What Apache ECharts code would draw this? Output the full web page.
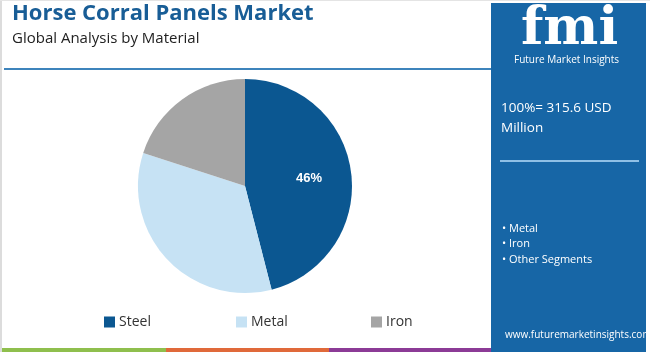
<!DOCTYPE html>
<html>
<head>
<meta charset="utf-8">
<script src="https://cdn.jsdelivr.net/npm/echarts@6/dist/echarts.min.js"></script>
<style>
  html, body { margin: 0; padding: 0; background: #fff; }
  #chart { width: 650px; height: 352px; }
</style>
</head>
<body>
<div id="chart"></div>
<script>
// data
const materials = ['Steel', 'Metal', 'Iron']
const shares = [46, 34, 20]
const sliceColors = ['#0b5791', '#c6e2f4', '#a5a5a5']
const sideBullets = ['Metal', 'Iron', 'Other Segments']
const totalText = ['100%= 315.6 USD', 'Million']

const chart = echarts.init(document.getElementById('chart'))
const font = '"Open Sans", Lato, sans-serif'
const panelBlue = '#1766a6'

// one legend per item so each sits where the reference has it
const legendLeft = [99, 231, 366]
const legends = materials.map((name, i) => ({
  data: [name],
  left: legendLeft[i],
  top: 310,
  itemWidth: 11,
  itemHeight: 11,
  icon: 'rect',
  itemGap: 0,
  textStyle: { fontFamily: font, fontSize: 14, color: '#333', padding: [0, 0, 0, -1] }
}))

const sideGraphics = [
  // header rule
  { type: 'rect', shape: { x: 4, y: 68, width: 488, height: 2 }, style: { fill: '#3e84bc' } },
  // bottom color bars
  { type: 'rect', shape: { x: 2, y: 348, width: 164, height: 4 }, style: { fill: '#8fbf4d' } },
  { type: 'rect', shape: { x: 166, y: 348, width: 163, height: 4 }, style: { fill: '#e0693a' } },
  { type: 'rect', shape: { x: 329, y: 348, width: 164, height: 4 }, style: { fill: '#8c3b96' } },
  // frame lines
  { type: 'rect', shape: { x: 0, y: 0, width: 2, height: 352 }, style: { fill: '#dcdcdc' } },
  { type: 'rect', shape: { x: 0, y: 0, width: 650, height: 1 }, style: { fill: '#e4e4e4' } },
  // right panel
  { type: 'rect', shape: { x: 491, y: 3, width: 155, height: 349 }, style: { fill: panelBlue } },
  { type: 'text', left: 12, top: 3, style: { text: 'Horse Corral Panels Market', fill: '#185d96', font: 'bold 22px "Open Sans", sans-serif' } },
  { type: 'text', left: 12, top: 31, style: { text: 'Global Analysis by Material', fill: '#222', font: '15px "Open Sans", sans-serif' } },
  // logo
  { type: 'text', left: 521, top: 4, style: { text: 'fmi', fill: '#fff', font: 'bold 52px "DejaVu Serif", serif' } },
  { type: 'text', left: 514, top: 55, style: { text: 'Future Market Insights', fill: '#fff', font: '10px "Open Sans", sans-serif' } },
  { type: 'text', left: 501, top: 98, style: { text: totalText.join('\n'), fill: '#fff', font: '13.5px "Open Sans", sans-serif', lineHeight: 20 } },
  { type: 'rect', shape: { x: 500, y: 160, width: 139, height: 2 }, style: { fill: '#8fc0e6' } },
  { type: 'text', left: 502, top: 221, style: { text: sideBullets.map(s => '\u2022 ' + s).join('\n'), fill: '#fff', font: '11px "Open Sans", sans-serif', lineHeight: 15.5 } },
  { type: 'text', left: 505, top: 330, style: { text: 'www.futuremarketinsights.com', fill: '#fff', font: '10px "Open Sans", sans-serif' } }
]

const option = {
  animation: false,
  color: sliceColors,
  legend: legends,
  graphic: sideGraphics,
  series: [{
    type: 'pie',
    center: [245, 186],
    radius: 107,
    startAngle: 90,
    clockwise: true,
    label: { show: false },
    labelLine: { show: false },
    emphasis: { disabled: true },
    data: materials.map((name, i) => ({
      name,
      value: shares[i],
      label: i === 0 ? {
        show: true,
        position: 'inside',
        formatter: '{d}%',
        color: '#fff',
        fontFamily: 'Arial, "Liberation Sans", sans-serif',
        fontWeight: 'bold',
        fontSize: 13,
        offset: [8, 0]
      } : { show: false }
    }))
  }]
}

chart.setOption(option)
</script>
</body>
</html>
